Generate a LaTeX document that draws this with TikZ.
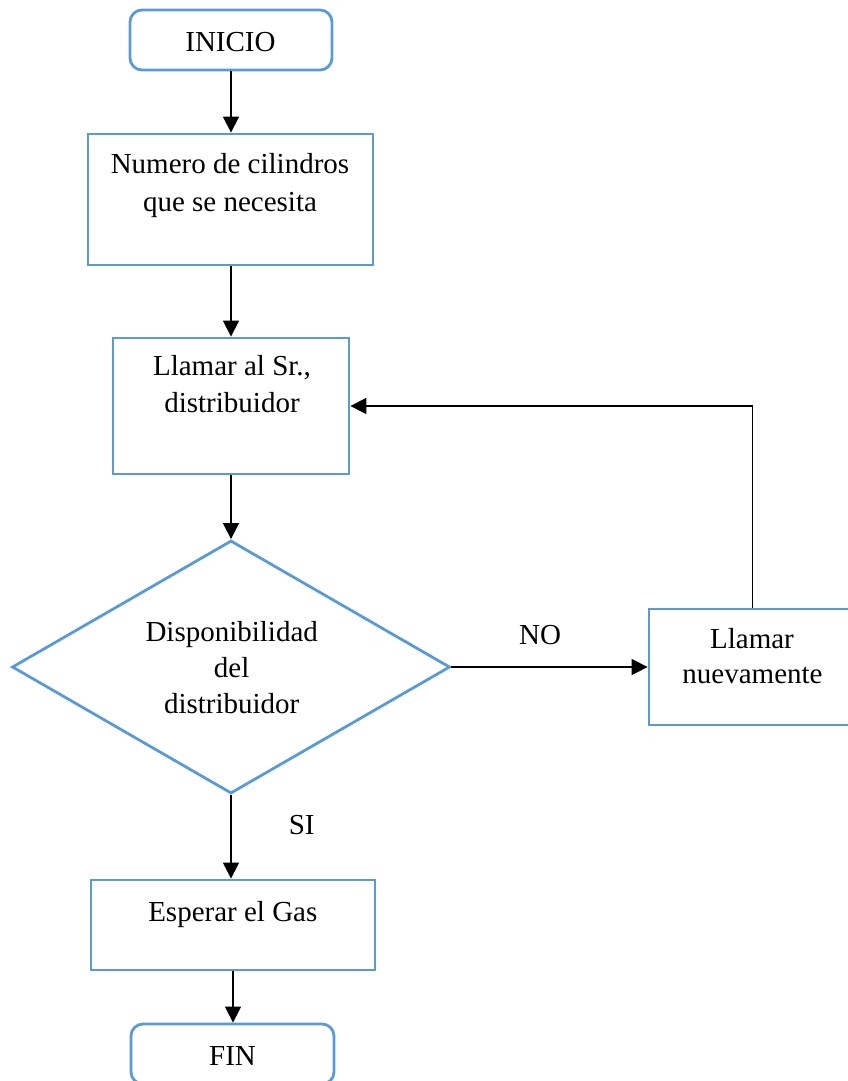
\documentclass[tikz,border=0pt]{standalone}
\usepackage{fontspec}
\setmainfont{Liberation Serif}
\usetikzlibrary{arrows.meta,shapes.geometric}
\definecolor{boxblue}{HTML}{5B9BD5}
\begin{document}
\begin{tikzpicture}[x=1pt,y=-1pt,
  shapebox/.style={draw=boxblue,line width=2.8pt,fill=white,inner sep=0pt,rectangle},
  roundbox/.style={shapebox,rounded corners=12pt},
  decide/.style={draw=boxblue,line width=2.8pt,fill=white,diamond,inner sep=0pt},
  txt/.style={anchor=base,inner sep=0pt,font=\fontsize{29}{38}\selectfont},
  arr/.style={draw=black,line width=1.4pt,-{Triangle[length=16pt,width=16pt]}}]
\useasboundingbox (0,0) rectangle (848,1081);
% shapes
\node[roundbox,minimum width=202pt,minimum height=60pt] (inicio) at (231,40) {};
\node[shapebox,minimum width=285pt,minimum height=131pt] (b1) at (230.5,199.5) {};
\node[shapebox,minimum width=236pt,minimum height=136pt] (b2) at (231,406) {};
\node[decide,minimum width=438pt,minimum height=253pt] (dia) at (231,667) {};
\node[shapebox,minimum width=236pt,minimum height=116pt] (b3) at (767,667) {};
\node[shapebox,minimum width=284pt,minimum height=90pt] (b4) at (233,925) {};
\node[roundbox,minimum width=203pt,minimum height=60pt] (fin) at (232.5,1054) {};
% texts
\node[txt] (t0) at (230.5,51.7) {INICIO};
\node[txt] (t1a) at (230,173) {Numero de cilindros};
\node[txt] (t1b) at (230,211) {que se necesita};
\node[txt] (t2a) at (232,375.7) {Llamar al Sr.,};
\node[txt] (t2b) at (232,412.7) {distribuidor};
\node[txt] (t3a) at (231.7,641.7) {Disponibilidad};
\node[txt] (t3b) at (231.7,677.5) {del};
\node[txt] (t3c) at (231.7,713) {distribuidor};
\node[txt] (t4a) at (752,648) {Llamar};
\node[txt] (t4b) at (752.5,683.5) {nuevamente};
\node[txt] (t5) at (232.8,921) {Esperar el Gas};
\node[txt] (t6) at (232.5,1065) {FIN};
\node[txt] (no) at (540,644) {NO};
\node[txt] (si) at (301.7,834) {SI};
% connectors
\coordinate (ret) at (752.7,406);
\draw[arr] (inicio.south) -- (inicio.south |- b1.north);
\draw[arr] (b1.south -| b2.north) -- (b2.north);
\draw[arr] (b2.south) -- (dia.north);
\draw[arr] (dia.south) -- (dia.south |- b4.north);
\draw[arr] (b4.south) -- (b4.south |- fin.north);
\draw[arr] (dia.east) -- (b3.west);
\draw[arr] (b3.north -| ret) -- (ret) -- (b2.east);
\end{tikzpicture}
\end{document}
